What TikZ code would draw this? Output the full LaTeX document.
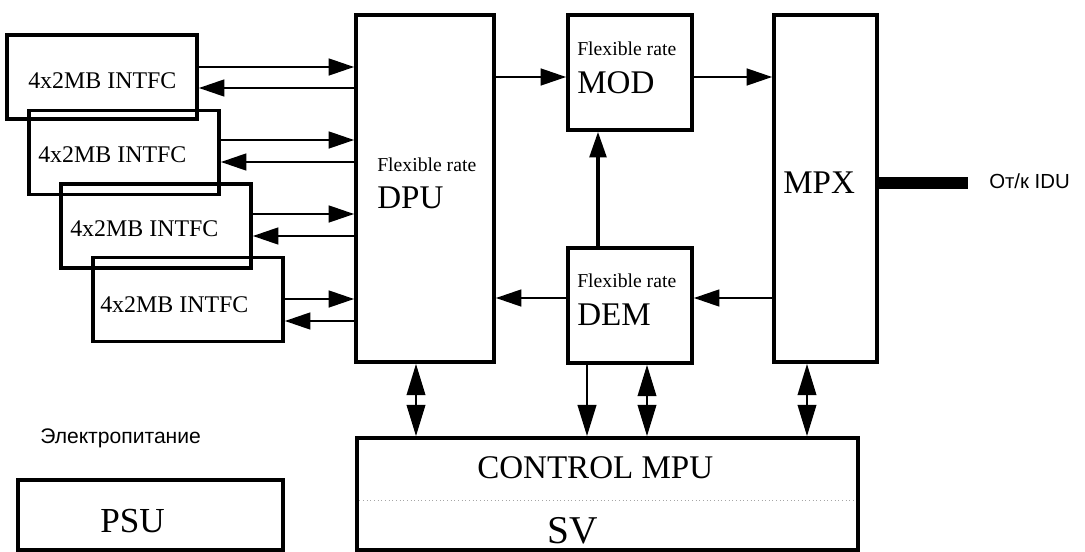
\documentclass[tikz,border=0pt]{standalone}
\usepackage{fontspec}
\setmainfont{Liberation Serif}
\newfontfamily\rusfont{Liberation Sans}
\usetikzlibrary{arrows.meta}

\begin{document}
\begin{tikzpicture}[
    x=0.025cm, y=-0.025cm,
    >={Triangle[length=0.64cm, width=0.42cm]},
    box/.style={draw, line width=2.6pt, inner sep=0pt},
    intfc/.style={box, minimum width=4.75cm, minimum height=2.1cm},
    lbl/.style={anchor=base west, inner sep=0pt},
    flexlbl/.style={lbl, font=\fontsize{14}{16}\selectfont},
    namelbl/.style={lbl, font=\fontsize{23.5}{26}\selectfont},
    rulbl/.style={lbl, font=\rusfont\fontsize{14.5}{17}\selectfont},
    arr/.style={->, line width=1.7pt},
    dbl/.style={{Triangle[length=0.78cm, width=0.46cm]}-{Triangle[length=0.78cm, width=0.46cm]}, line width=1.7pt}
]
    \useasboundingbox (0,0) rectangle (1085,552);

    % Interfaces
    \node[intfc] (intfc1) at (102, 77) {};
    \node[intfc] (intfc2) at (124, 152.5) {};
    \node[intfc] (intfc3) at (156, 226) {};
    \node[intfc] (intfc4) at (188, 299.5) {};
    \node[namelbl, font=\fontsize{17}{20}\selectfont] (intfc1lbl) at (28, 88) {4x2MB INTFC};
    \node[namelbl, font=\fontsize{17}{20}\selectfont] (intfc2lbl) at (38, 162) {4x2MB INTFC};
    \node[namelbl, font=\fontsize{17}{20}\selectfont] (intfc3lbl) at (70, 236) {4x2MB INTFC};
    \node[namelbl, font=\fontsize{17}{20}\selectfont] (intfc4lbl) at (100, 312) {4x2MB INTFC};

    % DPU, MOD, DEM, MPX
    \node[box, minimum width=3.45cm, minimum height=8.675cm] (dpu) at (425, 188.5) {};
    \node[flexlbl] (dpuflex) at (377, 171) {Flexible rate};
    \node[namelbl] (dpuname) at (377, 208) {DPU};

    \node[box, minimum width=3.1cm, minimum height=2.875cm] (mod) at (630, 72.5) {};
    \node[flexlbl] (modflex) at (577, 55) {Flexible rate};
    \node[namelbl] (modname) at (577, 93) {MOD};

    \node[box, minimum width=3.1cm, minimum height=2.875cm] (dem) at (630, 305.5) {};
    \node[flexlbl] (demflex) at (577, 287) {Flexible rate};
    \node[namelbl] (demname) at (577, 325) {DEM};

    \node[box, minimum width=2.575cm, minimum height=8.675cm] (mpx) at (825.5, 188.5) {};
    \node[namelbl] (mpxname) at (783, 193) {MPX};

    % Control
    \node[box, minimum width=12.525cm, minimum height=2.8cm] (ctrl) at (607.5, 494) {};
    \node[namelbl] (ctrlname) at (477, 478) {CONTROL MPU};
    \node[namelbl, font=\fontsize{28}{31}\selectfont] (svname) at (547, 543) {SV};
    \draw[gray!70, dotted, line width=0.6pt] ([xshift=3pt]ctrl.west |- 0,500) -- ([xshift=-3pt]ctrl.east |- 0,500);

    % Power
    \node[rulbl, font=\rusfont\fontsize{15}{18}\selectfont] (power) at (40, 443) {Электропитание};
    \node[box, minimum width=6.625cm, minimum height=1.75cm] (psu) at (150.5, 515) {};
    \node[namelbl, font=\fontsize{25}{28}\selectfont] (psuname) at (100, 532) {PSU};

    % Interface links
    \draw[arr] (intfc1.east |- 0,67) -- (dpu.west |- 0,67);
    \draw[arr] (dpu.west |- 0,88) -- (intfc1.east |- 0,88);
    \draw[arr] (intfc2.east |- 0,140) -- (dpu.west |- 0,140);
    \draw[arr] (dpu.west |- 0,162) -- (intfc2.east |- 0,162);
    \draw[arr] (intfc3.east |- 0,214) -- (dpu.west |- 0,214);
    \draw[arr] (dpu.west |- 0,236) -- (intfc3.east |- 0,236);
    \draw[arr] (intfc4.east |- 0,299) -- (dpu.west |- 0,299);
    \draw[arr] (dpu.west |- 0,321) -- (intfc4.east |- 0,321);

    % Data path
    \draw[arr] (dpu.east |- 0,77) -- (mod.west |- 0,77);
    \draw[arr] (mod.east |- 0,77) -- (mpx.west |- 0,77);
    \draw[arr] (mpx.west |- 0,298) -- (dem.east |- 0,298);
    \draw[arr] (dem.west |- 0,298) -- (dpu.east |- 0,298);
    \draw[->, line width=2.3pt] (dem.north -| 598,0) -- (mod.south -| 598,0);

    % Control links
    \draw[dbl] (dpu.south -| 416,0) -- (ctrl.north -| 416,0);
    \draw[->, line width=2pt, >={Triangle[length=0.78cm, width=0.46cm]}] (dem.south -| 587,0) -- (ctrl.north -| 587,0);
    \draw[dbl] (dem.south -| 647,0) -- (ctrl.north -| 647,0);
    \draw[dbl] (mpx.south -| 807,0) -- (ctrl.north -| 807,0);

    % IDU
    \coordinate (idu) at (968, 183);
    \draw[line width=9.2pt] (mpx.east |- idu) -- (idu);
    \node[rulbl] (idulbl) at (989, 188) {От/к IDU};

\end{tikzpicture}
\end{document}
